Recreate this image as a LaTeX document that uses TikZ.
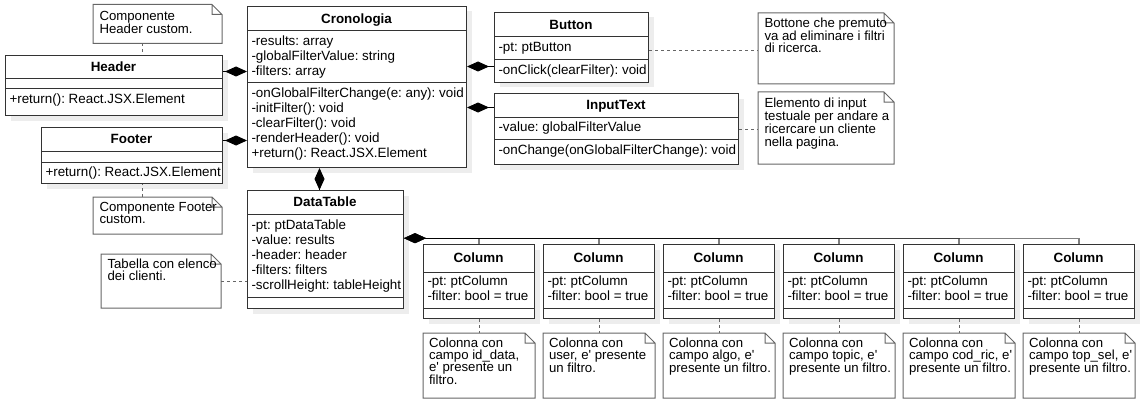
\documentclass[tikz,border=0pt]{standalone}
\usepackage{fontspec}
\setmainfont{Liberation Sans}[Ligatures=TeXOff]
\usetikzlibrary{arrows.meta,shadows}
\frenchspacing
\newcommand{\clsfont}{\fontsize{13.4}{15}\selectfont}
\newcommand{\notefont}{\fontsize{13.2}{12.2}\selectfont}
\tikzset{
  cls/.style = {draw=black!80, fill=white, anchor=north west, inner sep=0,
    general shadow={fill=black!7, shadow xshift=5pt, shadow yshift=-5pt}},
  ctitle/.style = {anchor=base, inner sep=0, outer sep=0, font=\clsfont\bfseries},
  member/.style = {anchor=north west, inner sep=0, outer sep=0, align=left, font=\clsfont},
  sep/.style = {draw=black!80},
  note/.style = {anchor=north west, inner sep=0},
  notetext/.style = {anchor=north west, inner sep=0, outer sep=0, align=left, font=\notefont},
  link/.style = {draw=black!60, dash pattern=on 3pt off 3pt},
  comp/.style = {draw=black, {Diamond[length=22pt,width=10pt]}-}
}
% note outline with folded corner
\newcommand{\notebox}[1]{%
  \draw[black!60] (#1.north west) -- ([xshift=-10]#1.north east) -- ([yshift=-10]#1.north east)
    -- (#1.south east) -- (#1.south west) -- cycle
    ([xshift=-10]#1.north east) |- ([yshift=-10]#1.north east);}
\begin{document}
\begin{tikzpicture}[x=1pt, y=-1pt, line width=1pt]
  \useasboundingbox (0,0) rectangle (1141,404);
  % Cronologia
  \node[cls, minimum width=219, minimum height=161] (cr) at (247,6) {};
  \node[ctitle] (crt) at (356.5,23.1) {Cronologia};
  \draw[sep] (247,31) -- (466,31) (247,82.7) -- (466,82.7);
  \node[member] (cra) at (251.5,36.2) {-results: array\\-globalFilterValue: string\\-filters: array};
  \node[member] (crm) at (251.5,88) {-onGlobalFilterChange(e: any): void\\-initFilter(): void\\-clearFilter(): void\\-renderHeader(): void\\+return(): React.JSX.Element};
  % Header
  \node[cls, minimum width=217, minimum height=60] (hd) at (5,55) {};
  \node[ctitle] (hdt) at (113.5,71.6) {Header};
  \draw[sep] (5,79) -- (222,79) (5,89) -- (222,89);
  \node[member] (hdm) at (9.5,94.2) {+return(): React.JSX.Element};
  % Footer
  \node[cls, minimum width=181, minimum height=56] (ft) at (41,127) {};
  \node[ctitle] (ftt) at (131.5,143.6) {Footer};
  \draw[sep] (41,151) -- (222,151) (41,162) -- (222,162);
  \node[member] (ftm) at (45.5,166.9) {+return(): React.JSX.Element};
  % DataTable
  \node[cls, minimum width=156, minimum height=118] (dt) at (247,190) {};
  \node[ctitle] (dtt) at (325,206.6) {DataTable};
  \draw[sep] (247,214) -- (403,214) (247,297) -- (403,297);
  \node[member] (dta) at (251.5,219.5) {-pt: ptDataTable\\-value: results\\-header: header\\-filters: filters\\-scrollHeight: tableHeight};
  % Button
  \node[cls, minimum width=154, minimum height=70] (bt) at (494,12) {};
  \node[ctitle] (btt) at (571,29.1) {Button};
  \draw[sep] (494,37) -- (648,37) (494,60) -- (648,60);
  \node[member] (bta) at (498.5,42.5) {-pt: ptButton};
  \node[member] (btm) at (498.5,64.7) {-onClick(clearFilter): void};
  % InputText
  \node[cls, minimum width=244, minimum height=71] (it) at (494,93) {};
  \node[ctitle] (itt) at (616,109.6) {InputText};
  \draw[sep] (494,117) -- (738,117) (494,139) -- (738,139);
  \node[member] (ita) at (498.5,121.7) {-value: globalFilterValue};
  \node[member] (itm) at (498.5,144.7) {-onChange(onGlobalFilterChange): void};
  % Columns and their notes
  \foreach \i/\txt [evaluate=\i as \x using 423+120*(\i-1)] in {
      1/{Colonna con\\campo id\_data,\\e' presente un\\filtro.},
      2/{Colonna con\\user, e' presente\\un filtro.},
      3/{Colonna con\\campo algo, e'\\presente un filtro.},
      4/{Colonna con\\campo topic, e'\\presente un filtro.},
      5/{Colonna con\\campo cod\_ric, e'\\presente un filtro.},
      6/{Colonna con\\campo top\_sel, e'\\presente un filtro.}} {
    \node[cls, minimum width=111, minimum height=74] (c\i) at (\x,244) {};
    \node[ctitle] (c\i t) at (\x+55.5,262.6) {Column};
    \draw[sep] (\x,272) -- (\x+111,272) (\x,308) -- (\x+111,308);
    \node[member] (c\i a) at (\x+4.5,275.7) {-pt: ptColumn\\-filter: bool = true};
    \node[note, minimum width=111, minimum height=64] (n\i) at (\x,333) {};
    \notebox{n\i}
    \node[notetext] (n\i t) at (\x+6,337.7) {\txt};
    \draw[link] (c\i.south) -- (n\i.north);
  }
  % notes
  \node[note, minimum width=128, minimum height=38] (nh) at (93,4.5) {};
  \notebox{nh}
  \node[notetext] (nht) at (99.5,11.1) {Componente\\Header custom.};
  \node[note, minimum width=128, minimum height=36] (nf) at (93,197) {};
  \notebox{nf}
  \node[notetext] (nft) at (99.5,202.1) {Componente Footer\\custom.};
  \node[note, minimum width=119, minimum height=53] (nt) at (101,254) {};
  \notebox{nt}
  \node[notetext] (ntt) at (107.5,258.7) {Tabella con elenco\\dei clienti.};
  \node[note, minimum width=135, minimum height=70] (nb) at (758,13) {};
  \notebox{nb}
  \node[notetext] (nbt) at (764.5,17.7) {Bottone che premuto\\va ad eliminare i filtri\\di ricerca.};
  \node[note, minimum width=135, minimum height=71] (ni) at (758,92) {};
  \notebox{ni}
  \node[notetext] (nit) at (764.5,97.7) {Elemento di input\\testuale per andare a\\ricercare un cliente\\nella pagina.};
  % note links
  \draw[link] ([xshift=-15]nh.south) -- ([xshift=-15]nh.south |- hd.north);
  \draw[link] ([xshift=-15]nf.north) -- ([xshift=-15]nf.north |- ft.south);
  \draw[link] (nt.east) -- (nt.east -| dt.west);
  \coordinate (btl) at ([yshift=-3]bt.east);
  \draw[link] (btl) -- (btl -| nb.west);
  \draw[link] (it.east) -- (it.east -| ni.west);
  % compositions
  \coordinate (hdc) at ([yshift=14]hd.east);
  \draw[comp] (cr.west |- hdc) -- (hdc);
  \coordinate (ftc) at ([yshift=15]ft.east);
  \draw[comp] (cr.west |- ftc) -- (ftc);
  \coordinate (btc) at ([yshift=-19]bt.west);
  \draw[comp] (cr.east |- btc) -- (btc);
  \coordinate (itc) at ([yshift=21.5]it.west);
  \draw[comp] (cr.east |- itc) -- (itc);
  \coordinate (dtc) at ([xshift=-6]dt.north);
  \draw[comp] (cr.south -| dtc) -- (dtc);
  \coordinate (colc) at ([yshift=11.3]dt.east);
  \foreach \i in {1,...,6}
    \draw[comp, draw opacity=.5, line width=1.4pt] (colc) -| (c\i.north);
\end{tikzpicture}
\end{document}
